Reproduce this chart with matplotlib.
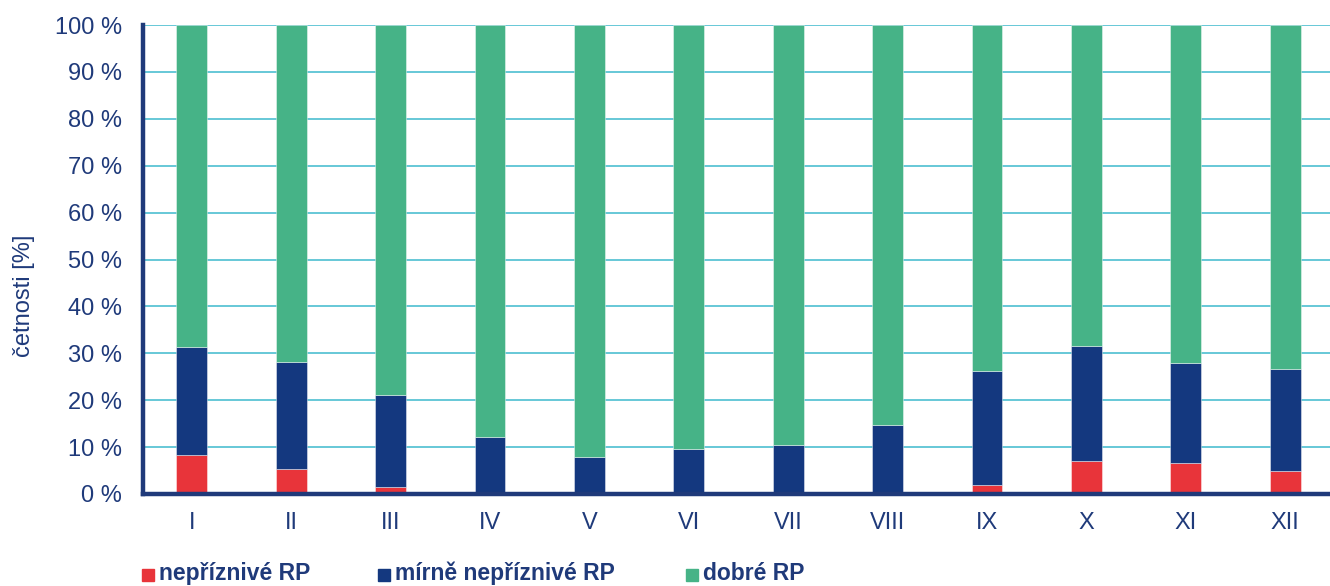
import matplotlib
matplotlib.use("Agg")
import matplotlib.pyplot as plt
from matplotlib.patches import Rectangle
import numpy as np

plt.rcParams['font.family'] = ['Liberation Sans', 'DejaVu Sans']

months = ["I", "II", "III", "IV", "V", "VI", "VII", "VIII", "IX", "X", "XI", "XII"]
# cumulative tops read as shares in %
nepriznive = [8.3, 5.3, 1.5, 0.0, 0.0, 0.0, 0.0, 0.0, 1.9, 7.0, 6.6, 5.0]
mirne_top = [31.3, 28.2, 21.1, 12.2, 7.9, 9.5, 10.5, 14.8, 26.2, 31.6, 28.0, 26.7]
mirne = [t - r for t, r in zip(mirne_top, nepriznive)]
dobre = [100.0 - t for t in mirne_top]

series_names = ["nepříznivé RP", "mírně nepříznivé RP", "dobré RP"]
colors = ["#E8343A", "#14387F", "#46B387"]
text_color = "#1F3A7A"
grid_color = "#5BC4D4"

W, H, dpi = 1330, 586, 100
fig = plt.figure(figsize=(W / dpi, H / dpi), dpi=dpi)
ax = fig.add_axes([143 / W, 1 - 494 / H, (1332 - 143) / W, (494 - 25) / H])

x = np.arange(len(months))
bw = 0.31
edge = dict(edgecolor=(1, 1, 1, 0.5), linewidth=0.6)
ax.bar(x, nepriznive, bw, color=colors[0], zorder=3, **edge)
ax.bar(x, mirne, bw, bottom=nepriznive, color=colors[1], zorder=3, **edge)
ax.bar(x, dobre, bw, bottom=mirne_top, color=colors[2], zorder=3, **edge)

ax.set_xlim(-0.49, 11.47)
ax.set_ylim(0, 100)
ax.set_yticks(np.arange(0, 101, 10))
ax.set_yticklabels([f"{v} %" for v in range(0, 101, 10)])
ax.set_xticks(x)
ax.set_xticklabels(months)
ax.tick_params(axis='both', length=0, labelsize=17, colors=text_color)
ax.tick_params(axis='y', pad=15)
ax.tick_params(axis='x', pad=13)

ax.yaxis.grid(True, color=grid_color, linewidth=1.3, zorder=0)
ax.set_axisbelow(True)
for side in ("top", "right"):
    ax.spines[side].set_visible(False)
for side in ("left", "bottom"):
    ax.spines[side].set_color(text_color)
    ax.spines[side].set_linewidth(3.2)
    ax.spines[side].set_zorder(4)

ax.set_ylabel("četnosti [%]", fontsize=17, color=text_color)
ax.yaxis.set_label_coords(-0.091, 0.422)

# legend row under the plot
leg_x = [142, 378, 686]
for lx, name, c in zip(leg_x, series_names, colors):
    fig.add_artist(Rectangle((lx / W, 1 - 581 / H), 12 / W, 12 / H,
                             transform=fig.transFigure, color=c))
    fig.text((lx + 17) / W, 1 - 580 / H, name, fontsize=16.5, fontweight='bold',
             color=text_color, va='baseline', ha='left')

fig.savefig("out.png", dpi=dpi)
